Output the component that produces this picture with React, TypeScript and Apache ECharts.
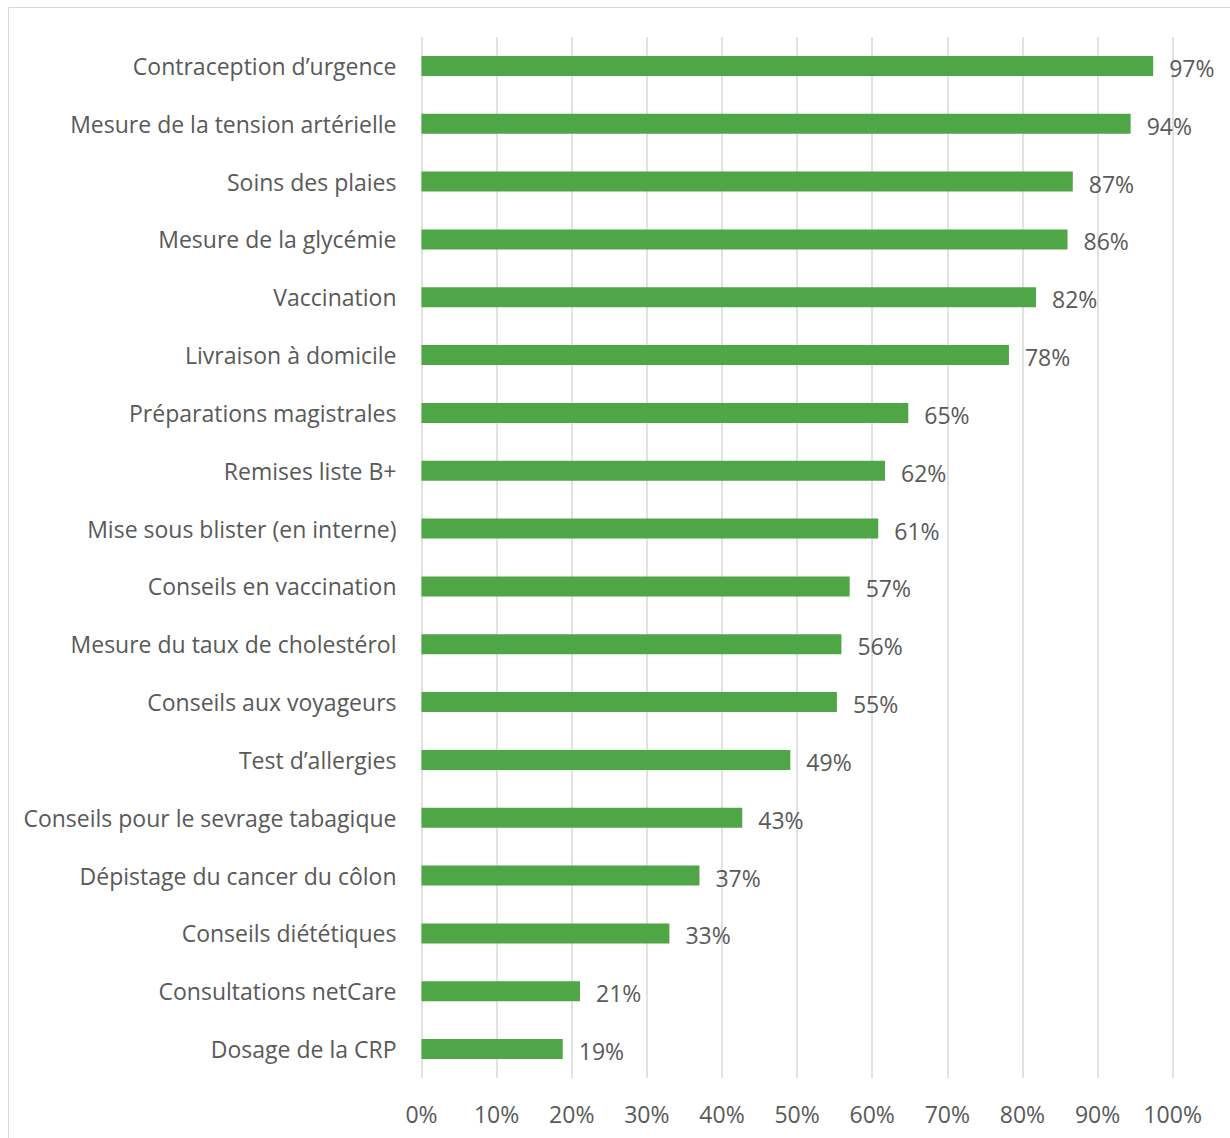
import React, { useEffect, useRef } from "react";
import * as echarts from "echarts";

const categories = [
  "Contraception d’urgence",
  "Mesure de la tension artérielle",
  "Soins des plaies",
  "Mesure de la glycémie",
  "Vaccination",
  "Livraison à domicile",
  "Préparations magistrales",
  "Remises liste B+",
  "Mise sous blister (en interne)",
  "Conseils en vaccination",
  "Mesure du taux de cholestérol",
  "Conseils aux voyageurs",
  "Test d’allergies",
  "Conseils pour le sevrage tabagique",
  "Dépistage du cancer du côlon",
  "Conseils diététiques",
  "Consultations netCare",
  "Dosage de la CRP",
];

const values = [97.4, 94.4, 86.7, 86.0, 81.8, 78.2, 64.8, 61.7, 60.8, 57.0, 55.9, 55.3, 49.1, 42.7, 37.0, 33.0, 21.1, 18.8];

const xTicks = [0, 10, 20, 30, 40, 50, 60, 70, 80, 90, 100];

const FONT = "'Open Sans', sans-serif";
const TEXT = "#595959";
const FS = 23;

export default function App() {
  const ref = useRef<HTMLDivElement>(null);
  useEffect(() => {
    if (!ref.current) return;
    const chart = echarts.init(ref.current, undefined, { renderer: "svg" });
    chart.setOption({
      animation: false,
      backgroundColor: "#ffffff",
      textStyle: { fontFamily: FONT },
      graphic: [
        {
          type: "rect",
          shape: { x: 8.5, y: 7.5, width: 1400, height: 1400 },
          style: { fill: "none", stroke: "#d9d9d9", lineWidth: 1 },
          silent: true,
          z: -10,
        },
      ],
      grid: { left: 421.5, right: 57.3, top: 37, bottom: 60, containLabel: false },
      xAxis: {
        type: "value",
        min: xTicks[0],
        max: xTicks[xTicks.length - 1],
        interval: 10,
        axisLine: { show: false },
        axisTick: { show: false },
        splitLine: { show: true, lineStyle: { color: "#d9d9d9", width: 1.5 } },
        axisLabel: {
          color: TEXT,
          fontSize: FS,
          fontFamily: FONT,
          margin: 24,
          formatter: (v: number) => `${v}%`,
        },
      },
      yAxis: {
        type: "category",
        data: categories,
        inverse: true,
        axisLine: { show: false },
        axisTick: { show: false },
        axisLabel: { color: TEXT, fontSize: FS, fontFamily: FONT, margin: 25 },
      },
      series: [
        {
          type: "bar",
          data: values,
          barWidth: 20,
          itemStyle: { color: "#4ea646" },
          label: {
            show: true,
            position: "right",
            distance: 16,
            offset: [0, 2],
            color: TEXT,
            fontSize: FS,
            fontFamily: FONT,
            formatter: (p: any) => `${Math.round(p.value)}%`,
          },
        },
      ],
    });
    return () => chart.dispose();
  }, []);
  return (
    <div
      ref={ref}
      style={{ position: "absolute", left: 0, top: 0, width: 1230, height: 1138 }}
    />
  );
}
